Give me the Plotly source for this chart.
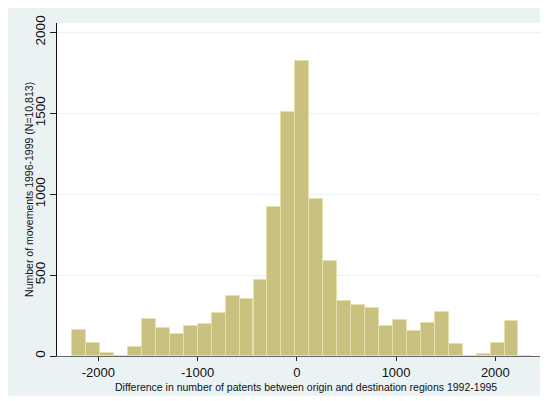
import plotly.graph_objects as go

# histogram bins (centres) and counts
bin_centers = [-2193, -2052, -1912, -1771, -1631, -1490, -1350, -1209, -1069, -928,
               -788, -647, -507, -366, -226, -85, 55, 196, 336, 477,
               617, 758, 898, 1039, 1179, 1320, 1460, 1601, 1741, 1882,
               2022, 2163, 2303]
counts = [158, 82, 21, 0, 55, 226, 176, 138, 183, 195,
          263, 373, 351, 470, 922, 1509, 1825, 970, 589, 338,
          318, 298, 185, 224, 152, 201, 273, 76, 0, 12,
          80, 215, 0]
bin_width = 140.5

x_ticks = [-2000, -1000, 0, 1000, 2000]
x_ticktext = ["-2000", "-1000", "0", "1000", "2000"]
y_ticks = [0, 500, 1000, 1500, 2000]

x_title = "Difference in number of patents between origin and destination regions 1992-1995"
y_title = "Number of movements 1996-1999 (N=10,813)"

bg = "#EAF2F3"
font = "Liberation Sans, Arial, sans-serif"

fig = go.Figure()
fig.add_trace(go.Bar(
    x=bin_centers, y=counts, width=bin_width,
    marker=dict(color="#C9C17F", line=dict(color="#E6DFAE", width=1)),
    hoverinfo="x+y", showlegend=False,
))

# page body has an 8px margin, so the figure is 8px smaller than the window
fig.update_layout(
    width=540, height=393,
    margin=dict(l=49, r=7, t=13, b=45),
    paper_bgcolor="white",
    plot_bgcolor="white",
    font=dict(family=font, color="#111"),
    bargap=0,
    shapes=[
        # outer light frame
        dict(type="rect", xref="paper", yref="paper", layer="below",
             x0=-0.11, x1=1.0124, y0=-0.1194, y1=1.05,
             fillcolor=bg, line=dict(width=0)),
        # white plot region
        dict(type="rect", xref="paper", yref="paper", layer="below",
             x0=0, x1=1, y0=0, y1=1,
             fillcolor="white", line=dict(width=0)),
    ],
    annotations=[
        dict(text=x_title, xref="paper", yref="paper", x=0.514, y=-0.093,
             xanchor="center", yanchor="middle", showarrow=False,
             font=dict(size=10.5, family=font, color="#111")),
        dict(text=y_title, xref="paper", yref="paper", x=-0.059, y=0.5,
             xanchor="center", yanchor="middle", showarrow=False, textangle=-90,
             font=dict(size=10.5, family=font, color="#111")),
    ],
)

fig.update_xaxes(
    range=[-2416, 2460],
    tickvals=x_ticks, ticktext=x_ticktext,
    showgrid=False, zeroline=False,
    showline=True, linecolor="#666", linewidth=1,
    ticks="outside", ticklen=4, tickcolor="#222", tickwidth=1,
    tickfont=dict(size=13, family=font, color="#111"),
)
fig.update_yaxes(
    range=[0, 2058],
    tickvals=y_ticks,
    showgrid=True, gridcolor=bg, gridwidth=1,
    zeroline=False,
    showline=True, linecolor="#111", linewidth=1,
    ticks="outside", ticklen=6, tickcolor="#222", tickwidth=1,
    tickangle=-90,
    tickfont=dict(size=13.5, family=font, color="#111"),
)

fig.write_html("out.html")
